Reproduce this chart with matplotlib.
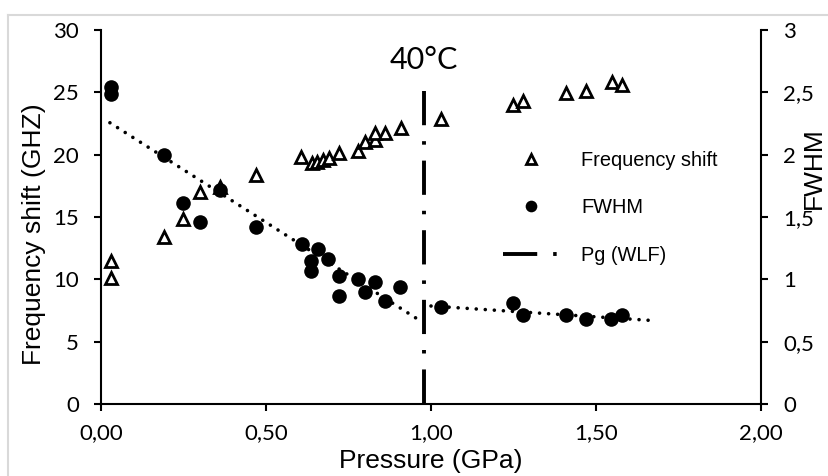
import numpy as np
import matplotlib
matplotlib.use('Agg')
from matplotlib import pyplot as plt
from matplotlib.lines import Line2D

# frequency shift (left axis, GHz)
freq_p = [0.03, 0.03, 0.19, 0.25, 0.30, 0.36, 0.47, 0.605, 0.638, 0.654, 0.674, 0.692, 0.722,
          0.778, 0.80, 0.83, 0.83, 0.86, 0.91, 1.03, 1.25, 1.28, 1.41, 1.47, 1.55, 1.58]
freq_ghz = [11.5, 10.1, 13.4, 14.8, 17.0, 17.4, 18.4, 19.8, 19.3, 19.4, 19.6, 19.7, 20.15,
            20.3, 21.0, 21.2, 21.7, 21.75, 22.1, 22.9, 24.0, 24.3, 24.95, 25.1, 25.85, 25.6]

# FWHM (right axis)
fwhm_p = [0.03, 0.03, 0.19, 0.25, 0.30, 0.36, 0.47, 0.61, 0.636, 0.636, 0.657, 0.687, 0.72, 0.72,
          0.78, 0.80, 0.83, 0.86, 0.906, 1.03, 1.25, 1.28, 1.41, 1.47, 1.545, 1.58]
fwhm = [2.54, 2.49, 2.00, 1.61, 1.46, 1.72, 1.42, 1.28, 1.15, 1.07, 1.24, 1.16, 1.03, 0.87,
        1.005, 0.90, 0.975, 0.83, 0.94, 0.775, 0.81, 0.71, 0.715, 0.68, 0.68, 0.715]

# dotted trend lines on FWHM, below and above Pg
trend_low_p = [0.027, 0.96]
trend_low = [2.256, 0.68]
trend_high_p = [1.0, 1.68]
trend_high = [0.786, 0.668]

pg = 0.979
pg_top = 25.1

x_ticks = [0.0, 0.5, 1.0, 1.5, 2.0]
y_ticks = [0, 5, 10, 15, 20, 25, 30]
y2_ticks = [0, 0.5, 1, 1.5, 2, 2.5, 3]

W, H = 829, 476
fig = plt.figure(figsize=(W / 100, H / 100), dpi=100)

# light grey chart-area border (cropped on right and bottom)
fig.add_artist(Line2D([8 / W, 8 / W], [1 - 15 / H, -0.1], color='#d9d9d9', lw=1.5))
fig.add_artist(Line2D([8 / W, 1.1], [1 - 15 / H, 1 - 15 / H], color='#d9d9d9', lw=1.5))

ax = fig.add_axes([101 / W, 72 / H, 660 / W, 374 / H])
ax2 = ax.twinx()

tick_font = dict(family='Lato', size=16)
label_font = dict(family='Liberation Sans', size=19)

ax.plot(freq_p, freq_ghz, linestyle='none', marker='^', ms=8.5, mew=2,
        mfc='white', mec='black', label='Frequency shift', clip_on=False)
pg_line, = ax.plot([pg, pg], [pg_top, 0], color='black', lw=2.8,
                   dashes=(8.8, 4.1, 0.9, 4.1), label='Pg (WLF)')

ax2.plot(trend_low_p, trend_low, color='black', lw=2.6,
         linestyle=(0, (0.01, 2.5)), dash_capstyle='round')
ax2.plot(trend_high_p, trend_high, color='black', lw=2.6,
         linestyle=(0, (0.01, 2.5)), dash_capstyle='round')
ax2.plot(fwhm_p, fwhm, linestyle='none', marker='o', ms=10.5, mew=0,
         color='black', label='FWHM', clip_on=False)

ax.set_xlim(0, 2)
ax.set_ylim(0, 30)
ax2.set_ylim(0, 3)

ax.set_xticks(x_ticks)
ax.set_xticklabels([('%.2f' % v).replace('.', ',') for v in x_ticks], **tick_font)
ax.set_yticks(y_ticks)
ax.set_yticklabels([str(v) for v in y_ticks], **tick_font)
ax2.set_yticks(y2_ticks)
ax2.set_yticklabels([('%g' % v).replace('.', ',') for v in y2_ticks], **tick_font)

for a in (ax, ax2):
    a.spines['top'].set_visible(False)
    for s in a.spines.values():
        s.set_linewidth(1.5)
    a.tick_params(length=5, width=1.5, direction='out')
ax.spines['right'].set_visible(False)
ax2.spines['left'].set_visible(False)
ax2.spines['bottom'].set_visible(False)
ax.tick_params(axis='y', pad=11)
ax.tick_params(axis='x', pad=9)
ax2.tick_params(axis='y', pad=11)

ax.text(pg, 26.9, '40°C', family='Lato', size=22, ha='center', va='baseline')

fig.text(34 / W, 1 - 234 / H, 'Frequency shift (GHZ)', rotation=90,
         ha='center', va='center', **label_font)
fig.text(431 / W, 1 - 468 / H, 'Pressure (GPa)', ha='center', va='baseline', **label_font)
fig.text(814 / W, 1 - 168 / H, 'FWHM', rotation=90, ha='center', va='center', **label_font)

handles = [ax.lines[0], ax2.lines[2], pg_line]
leg = ax2.legend(handles, [h.get_label() for h in handles],
                 loc='upper left', bbox_to_anchor=(503 / W, 1 - 151 / H),
                 bbox_transform=fig.transFigure, frameon=False, borderpad=0,
                 borderaxespad=0, handlelength=2.75, handletextpad=1.15,
                 labelspacing=1.42, markerscale=0.8,
                 prop=dict(family='Liberation Sans', size=14.4))

fig.savefig('out.png', dpi=100)
